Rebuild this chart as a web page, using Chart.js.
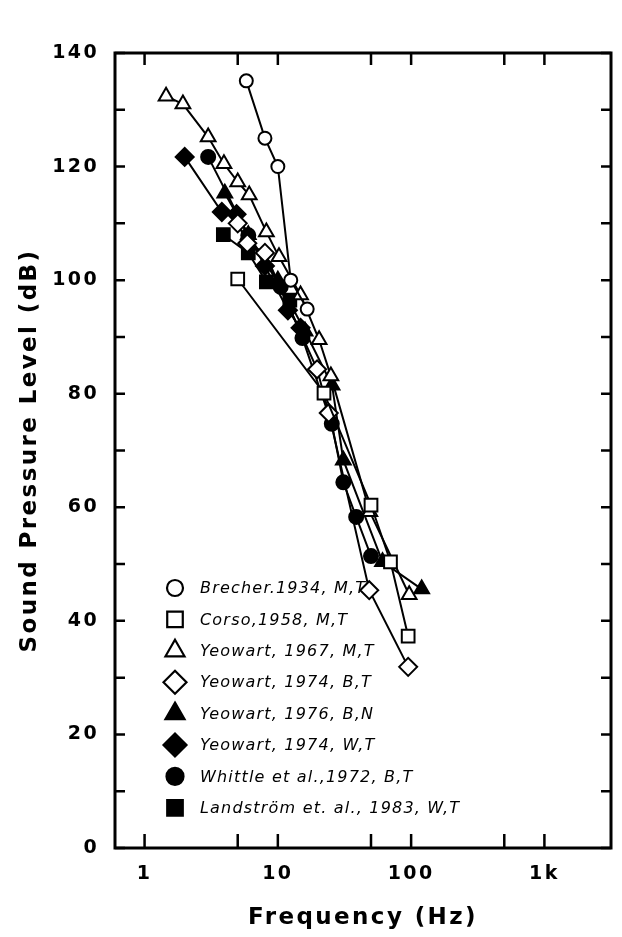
<!DOCTYPE html>
<html><head><meta charset="utf-8">
<script src="https://cdn.jsdelivr.net/npm/chart.js@4.4.1/dist/chart.umd.min.js"></script>
<style>html,body{margin:0;padding:0;background:#fff}#wrap{width:622px;height:937px}</style>
</head><body><div id="wrap"><canvas id="c" width="622" height="937"></canvas></div>
<script>
// ---- data (frequency in Hz, level in dB) ----
const brecherHz = [5.8, 8.0, 10.0, 12.5, 16.6];
const brecherDb = [135.1, 125.0, 120.0, 100.0, 94.9];
const corsoHz = [5, 22.2, 50, 70, 95];
const corsoDb = [100.2, 80.1, 60.4, 50.4, 37.3];
const yeo67Hz = [1.45, 1.94, 3.0, 3.94, 5.0, 6.1, 8.2, 10.2, 14.8, 20.4, 25, 49, 96.7];
const yeo67Db = [132.4, 131.0, 125.2, 120.5, 117.3, 115.0, 108.5, 104.1, 97.4, 89.5, 83.1, 59.2, 44.6];
const yeo74BHz = [5, 5.9, 8, 19.7, 24.1, 48.5, 95];
const yeo74BDb = [110, 106.5, 104.8, 84.3, 76.6, 45.4, 31.9];
const yeo76Hz = [4, 6, 10, 16, 25.5, 31, 61, 120];
const yeo76Db = [115.3, 108, 100, 91, 81.5, 68.3, 50.4, 45.6];
const yeo74WHz = [2, 3.8, 4.9, 8, 11.9, 14.8];
const yeo74WDb = [121.7, 112, 111.6, 102.5, 94.7, 91.6];
const whittleHz = [3, 6, 10.5, 15.3, 25.4, 31, 38.7, 50];
const whittleDb = [121.7, 107.9, 98.8, 89.8, 74.7, 64.4, 58.3, 51.4];
const landHz = [3.9, 6, 8.2, 12.3];
const landDb = [108, 104.8, 99.7, 96.5];

const seriesLabels = ['Brecher.1934, M,T','Corso,1958, M,T','Yeowart, 1967, M,T','Yeowart, 1974, B,T','Yeowart, 1976, B,N','Yeowart, 1974, W,T','Whittle et al.,1972, B,T','Landström et. al., 1983, W,T'];
const xTickValues = [1, 5, 10, 50, 100, 500, 1000];
const xTickLabels = {1:'1', 10:'10', 100:'100', 1000:'1k'};
const yTickLabelStep = 20;

function pts(xs, ys){ return xs.map((x,i)=>({x:x, y:ys[i]})); }

const styles = [
  {ps:'circle', fill:'#fff', r:6.5, lr:8},
  {ps:'rect', fill:'#fff', r:9, lr:11},
  {ps:'triangle', fill:'#fff', r:8.5, lr:11},
  {ps:'rectRot', fill:'#fff', r:9, lr:11.5},
  {ps:'triangle', fill:'#000', r:8.5, lr:11},
  {ps:'rectRot', fill:'#000', r:9, lr:11.5},
  {ps:'circle', fill:'#000', r:7, lr:8.5},
  {ps:'rect', fill:'#000', r:9, lr:11}
];
const dataSets = [
  pts(brecherHz, brecherDb), pts(corsoHz, corsoDb), pts(yeo67Hz, yeo67Db), pts(yeo74BHz, yeo74BDb),
  pts(yeo76Hz, yeo76Db), pts(yeo74WHz, yeo74WDb), pts(whittleHz, whittleDb), pts(landHz, landDb)
];

const datasets = dataSets.map((d,i)=>({
  label: seriesLabels[i], data: d, showLine: true,
  borderColor:'#000', borderWidth:2,
  pointStyle: styles[i].ps, pointRadius: styles[i].r, pointHoverRadius: styles[i].r,
  pointBackgroundColor: styles[i].fill, pointBorderColor:'#000', pointBorderWidth:2,
  backgroundColor: styles[i].fill
}));

const FONT = "'DejaVu Sans', sans-serif";
const PL = 115, PT = 53, PR = 620, PB = 848;

const spacingPlugin = { id:'spacing', beforeDraw(chart){ chart.ctx.letterSpacing = '2.4px'; } };

const framePlugin = {
  id:'frame',
  afterDraw(chart){
    const ctx = chart.ctx, a = chart.chartArea, x = chart.scales.x, y = chart.scales.y;
    ctx.save();
    ctx.strokeStyle = '#000';
    ctx.lineWidth = 3;
    ctx.strokeRect(a.left, a.top, a.right - a.left, a.bottom - a.top);
    ctx.lineWidth = 2.5;
    xTickValues.forEach(v => {
      const px = x.getPixelForValue(v);
      ctx.beginPath();
      ctx.moveTo(px, a.bottom); ctx.lineTo(px, a.bottom - 14);
      ctx.moveTo(px, a.top); ctx.lineTo(px, a.top + 12);
      ctx.stroke();
    });
    y.ticks.forEach(t => {
      const py = y.getPixelForValue(t.value);
      ctx.beginPath();
      ctx.moveTo(a.left, py); ctx.lineTo(a.left + 10, py);
      ctx.moveTo(a.right, py); ctx.lineTo(a.right - 10, py);
      ctx.stroke();
    });
    // legend
    ctx.letterSpacing = '1.2px';
    ctx.font = 'italic 16px ' + FONT;
    ctx.textBaseline = 'middle';
    ctx.textAlign = 'left';
    chart.data.datasets.forEach((ds, i) => {
      const cy = 588 + i * 31.4;
      const cx = a.left + 60;
      ctx.fillStyle = styles[i].fill;
      ctx.strokeStyle = '#000';
      ctx.lineWidth = 2.2;
      Chart.helpers.drawPoint(ctx, {pointStyle: styles[i].ps, radius: styles[i].lr, rotation:0, borderWidth:2.2}, cx, cy);
      ctx.fillStyle = '#000';
      ctx.fillText(ds.label, a.left + 85, cy + 1);
    });
    ctx.restore();
  }
};

new Chart(document.getElementById('c'), {
  type: 'scatter',
  data: { datasets: datasets },
  plugins: [spacingPlugin, framePlugin],
  options: {
    responsive: false, animation: false, devicePixelRatio: 1,
    layout: { padding: { left: 0, top: PT, right: 622 - PR, bottom: 0 } },
    plugins: { legend: { display: false }, tooltip: { enabled: false } },
    scales: {
      x: {
        type: 'logarithmic', min: 0.61, max: 3160,
        afterBuildTicks(s){ s.ticks = xTickValues.map(v => ({value: v})); },
        afterFit(s){ s.height = 937 - PB; },
        grid: { display: false, drawTicks: false },
        border: { display: false },
        ticks: {
          autoSkip: false, maxRotation: 0, padding: 15, color: '#000',
          font: { family: FONT, size: 19, weight: 'bold' },
          callback(v){ return xTickLabels[v] || ''; }
        },
        title: { display: true, text: 'Frequency (Hz)', color: '#000', padding: { top: 0, bottom: 5 },
                 font: { family: FONT, size: 23, weight: 'bold' } }
      },
      y: {
        min: 0, max: 140,
        afterFit(s){ s.width = PL; },
        grid: { display: false, drawTicks: false },
        border: { display: false },
        ticks: {
          stepSize: 10, autoSkip: false, padding: 16, color: '#000',
          font: { family: FONT, size: 19, weight: 'bold' },
          callback(v){ return v % yTickLabelStep === 0 ? String(v) : ''; }
        },
        title: { display: true, text: 'Sound Pressure Level (dB)', color: '#000', padding: { top: 16, bottom: 0 },
                 font: { family: FONT, size: 23, weight: 'bold' } }
      }
    }
  }
});
</script></body></html>
